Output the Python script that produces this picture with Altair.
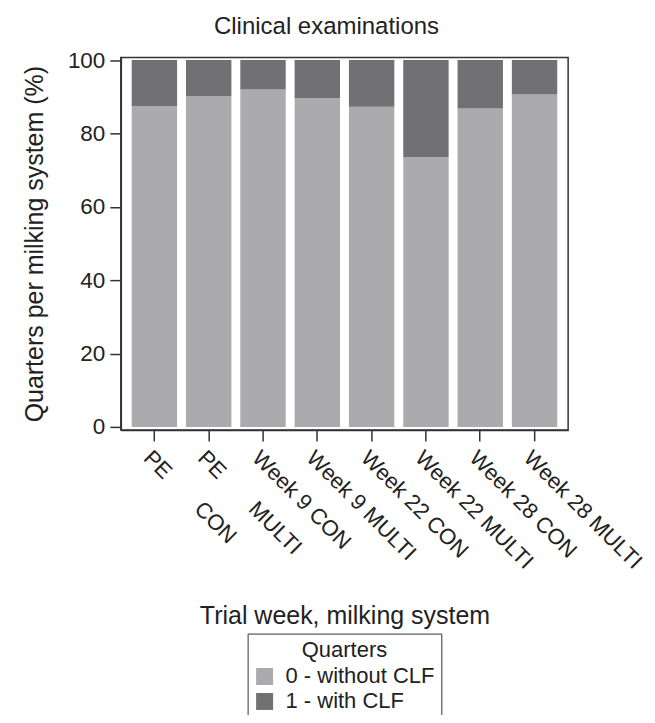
import altair as alt
import pandas as pd

NB = "\u00a0"
categories = [
    "PE" + NB * 7 + "CON",
    "PE" + NB * 7 + "MULTI",
    "Week 9 CON",
    "Week 9 MULTI",
    "Week 22 CON",
    "Week 22 MULTI",
    "Week 28 CON",
    "Week 28 MULTI",
]
without_clf = [87.5, 90.2, 92.0, 89.6, 87.3, 73.5, 86.8, 90.6]
with_clf = [12.5, 9.8, 8.0, 10.4, 12.7, 26.5, 13.2, 9.4]
groups = ["0 - without CLF", "1 - with CLF"]
colors = ["#ababad", "#717174"]
y_ticks = [0, 20, 40, 60, 80, 100]

rows = []
for c, a, b in zip(categories, without_clf, with_clf):
    rows.append({"week": c, "quarters": groups[0], "pct": a, "ord": 0})
    rows.append({"week": c, "quarters": groups[1], "pct": b, "ord": 1})
df = pd.DataFrame(rows)

chart = alt.Chart(df).mark_bar().encode(
    x=alt.X(
        "week:N",
        sort=categories,
        scale=alt.Scale(paddingInner=0.164, paddingOuter=0.2),
        axis=alt.Axis(
            title="Trial week, milking system",
            labelAngle=45,
            labelAlign="left",
            labelBaseline="top",
            tickSize=11,
            labelPadding=6,
            labelFontSize=22,
            titleFontSize=25,
            titleY=194,
            titleBaseline="alphabetic",
        ),
    ),
    y=alt.Y(
        "pct:Q",
        stack="zero",
        scale=alt.Scale(domain=[-0.8, 100.7], nice=False, zero=False),
        axis=alt.Axis(
            values=y_ticks,
            title="Quarters per milking system (%)",
            tickSize=11,
            labelPadding=5,
            labelFontSize=22.5,
            titleFontSize=25,
            titleX=-86,
            titleY=186.5,
            titleAngle=270,
            titleAlign="center",
            titleBaseline="middle",
        ),
    ),
    color=alt.Color(
        "quarters:N",
        scale=alt.Scale(domain=groups, range=colors),
        legend=alt.Legend(
            orient="none",
            legendX=127,
            legendY=577,
            title="Quarters",
            titleAnchor="middle",
            titleFontSize=22,
            titleFontWeight="normal",
            titlePadding=4,
            labelFontSize=22,
            symbolType="square",
            symbolSize=289,
            symbolStrokeWidth=0,
            symbolOpacity=1,
            strokeColor="#333333",
            padding=6,
            rowPadding=3,
            labelOffset=10,
        ),
    ),
    order=alt.Order("ord:Q"),
).properties(
    width=448,
    height=373,
    autosize=alt.AutoSizeParams(type="none"),
    padding={"left": 113, "top": 49, "right": 79, "bottom": 285},
    title=alt.TitleParams(
        "Clinical examinations",
        fontSize=24,
        fontWeight="normal",
        anchor="middle",
        dx=-18,
        offset=10,
        color="#222222",
    ),
).configure(
    font="Liberation Sans",
).configure_view(
    stroke="#333333", strokeWidth=1.5
).configure_axis(
    grid=False,
    domainColor="#333333",
    domainWidth=1.5,
    tickColor="#333333",
    tickWidth=1.5,
    labelColor="#222222",
    titleColor="#222222",
    titleFontWeight="normal",
).configure_legend(
    labelColor="#222222",
    titleColor="#222222",
)

chart.save("out.html", embed_options={"renderer": "svg", "actions": False})
